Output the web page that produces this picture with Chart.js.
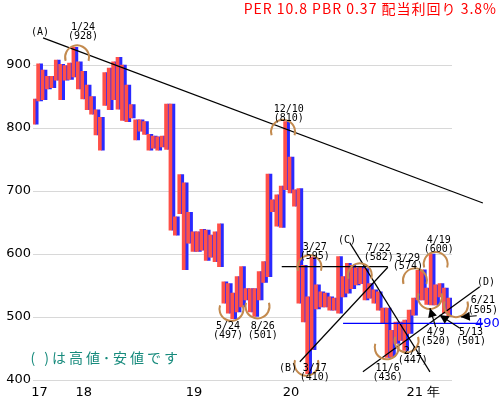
<!DOCTYPE html>
<html><head><meta charset="utf-8">
<script src="https://cdn.jsdelivr.net/npm/chart.js@4"></script>
<style>html,body{margin:0;padding:0;background:#fff}</style>
</head><body>
<canvas id="c" width="500" height="400"></canvas>
<script>
// ---- data ----
const lows  = [806,843,845,862,864,876,845,876,877,881,862,846,829,822,789,765,836,829,845,830,
               812,810,816,781,795,790,765,768,765,770,766,638,630,664,575,617,604,604,606,590,
               595,588,580,522,506,497,508,516,527,508,501,527,555,564,667,644,642,702,697,676,
               522,492,410,448,513,516,516,511,511,506,532,538,545,551,553,527,530,522,511,490,
               436,437,458,463,447,474,503,527,527,520,519,519,532,506,501];
const highs = [846,902,892,882,882,908,901,899,903,928,905,890,868,850,829,817,888,895,905,912,
               900,868,837,813,813,810,790,787,786,787,838,838,659,726,713,666,635,635,639,638,
               630,635,648,556,553,538,564,580,545,545,545,572,588,727,686,694,708,810,754,702,
               704,582,532,595,551,540,538,532,530,596,564,585,582,578,580,577,553,543,540,514,
               514,479,492,492,495,511,530,574,575,546,600,551,553,546,530];
const yearTickIndex = [1, 11, 36, 58, 88];
const yearTickText  = ['17', '18', '19', '20', '21 年'];
const categories = lows.map((_, i) => {
  const k = yearTickIndex.indexOf(i);
  return k >= 0 ? yearTickText[k] : '';
});
const yTickValues = [400, 500, 600, 700, 800, 900];

// annotations in data units: [bar index, price]
const trendLines = [
  {from: [1.77, 943], to: [101.5, 681], color: '#000'},   // (A)
  {from: [60.0, 429], to: [79.95, 579], color: '#000'},   // (B)
  {from: [71.3, 618], to: [89.5, 413], color: '#000'},    // (C)
  {from: [74.3, 413], to: [100.8, 548], color: '#000'},   // (D)
  {from: [55.9, 580], to: [79.95, 580], color: '#000'},   // 3/27-7/22 level
  {from: [69.8, 490], to: [101.5, 490], color: '#0000ff'} // 490 support
];
const arcsTop    = [[9.5, 928], [56.2, 810], [62.2, 595], [73.6, 582], [86.1, 574], [90.8, 600]];
const arcsBottom = [[44.5, 497], [50.4, 501], [61.5, 410], [79.7, 436], [84.2, 447], [89.5, 516], [95.4, 503]];
const arrows = [
  {from: [90.8, 484], to: [89.5, 514]},
  {from: [96.3, 482], to: [91.7, 503]},
  {from: [100.1, 502], to: [96.5, 500]}
];
const notes = [
  ['(A)', 1.09, 952.4], ['1/24', 10.83, 960.3], ['(928)', 10.83, 946],
  ['12/10', 57.5, 830.2], ['(810)', 57.5, 815.9],
  ['5/24', 43.7, 485.7], ['(497)', 43.7, 471.4],
  ['8/26', 51.6, 485.7], ['(501)', 51.6, 471.4],
  ['3/27', 63.4, 611.1], ['(595)', 63.4, 596.8],
  ['(C)', 70.7, 622.2],
  ['7/22', 77.9, 609.5], ['(582)', 77.9, 595.2],
  ['3/29', 84.5, 593.7], ['(574)', 84.5, 581],
  ['4/19', 91.5, 621.4], ['(600)', 91.5, 607.9],
  ['(B)', 57.3, 419], ['3/17', 63.4, 419], ['(410)', 63.4, 404.8],
  ['11/6', 79.9, 419], ['(436)', 79.9, 404.8],
  ['2/1', 85.6, 446], ['(447)', 85.6, 431.7],
  ['4/9', 90.8, 475.4], ['(520)', 90.8, 460.8],
  ['5/13', 98.8, 475.4], ['(501)', 98.8, 460.8],
  ['6/21', 101.5, 527], ['(505)', 101.5, 511.1],
  ['(D)', 102.2, 555.6]
];
const supportLabel = ['490', 99.7, 490];
const legendNote = ['( )は高値･安値です', 16, 434.9];
const headline = 'PER 10.8 PBR 0.37 配当利回り 3.8%';

// ---- drawing ----
const annot = {
  id: 'annot',
  afterDatasetsDraw(chart) {
    const {ctx, scales: {x, y}} = chart;
    const P = (p) => [x.getPixelForValue(p[0]), y.getPixelForValue(p[1])];
    ctx.save();
    trendLines.forEach(l => {
      const a = P(l.from), b = P(l.to);
      ctx.beginPath(); ctx.moveTo(a[0], a[1]); ctx.lineTo(b[0], b[1]);
      ctx.strokeStyle = l.color; ctx.lineWidth = 1.2; ctx.stroke();
    });
    ctx.strokeStyle = '#c38a4e'; ctx.lineWidth = 2;
    const r = 12, ext = 0.3;
    arcsTop.forEach(p => {
      const c = P(p);
      ctx.beginPath(); ctx.arc(c[0], c[1] - 2 + r, r, Math.PI - ext, 2 * Math.PI + ext); ctx.stroke();
    });
    arcsBottom.forEach(p => {
      const c = P(p);
      ctx.beginPath(); ctx.arc(c[0], c[1] + 2 - r, r, -ext, Math.PI + ext); ctx.stroke();
    });
    ctx.fillStyle = '#000'; ctx.strokeStyle = '#000'; ctx.lineWidth = 1.2;
    arrows.forEach(a => {
      const t = P(a.from), h = P(a.to);
      const ang = Math.atan2(h[1] - t[1], h[0] - t[0]);
      ctx.beginPath(); ctx.moveTo(t[0], t[1]); ctx.lineTo(h[0], h[1]); ctx.stroke();
      const L = 9, W = 4.5;
      ctx.beginPath();
      ctx.moveTo(h[0], h[1]);
      ctx.lineTo(h[0] - L * Math.cos(ang) + W * Math.sin(ang), h[1] - L * Math.sin(ang) - W * Math.cos(ang));
      ctx.lineTo(h[0] - L * Math.cos(ang) - W * Math.sin(ang), h[1] - L * Math.sin(ang) + W * Math.cos(ang));
      ctx.closePath(); ctx.fill();
    });
    ctx.font = "10px 'DejaVu Sans Mono'";
    ctx.textAlign = 'center'; ctx.textBaseline = 'middle'; ctx.fillStyle = '#000';
    notes.forEach(n => { const p = P([n[1], n[2]]); ctx.fillText(n[0], p[0], p[1]); });
    ctx.font = "13px 'DejaVu Sans'"; ctx.fillStyle = '#0000ff'; ctx.textAlign = 'left';
    let p = P([supportLabel[1], supportLabel[2]]);
    ctx.fillText(supportLabel[0], p[0], p[1]);
    ctx.font = "14px 'Noto Sans CJK JP'"; ctx.fillStyle = '#168a7c'; ctx.textAlign = 'center';
    try { ctx.letterSpacing = '3px'; } catch (e) {}
    p = P([legendNote[1], legendNote[2]]);
    ctx.fillText(legendNote[0], p[0], p[1]);
    ctx.font = "14px 'Noto Sans CJK JP'"; ctx.fillStyle = '#ff0000'; ctx.textAlign = 'right';
    try { ctx.letterSpacing = '1px'; } catch (e) {}
    ctx.fillText(headline, chart.width - 3, 9);
    try { ctx.letterSpacing = '0px'; } catch (e) {}
    ctx.restore();
  }
};

const ranges = lows.map((l, i) => [l, highs[i]]);
new Chart(document.getElementById('c'), {
  type: 'bar',
  data: {
    labels: categories,
    datasets: [
      {data: ranges, backgroundColor: '#ff5048', barThickness: 3},
      {data: ranges, backgroundColor: '#2a2aff', barThickness: 3}
    ]
  },
  options: {
    responsive: false,
    animation: false,
    layout: {padding: {top: 33.5, right: 48, left: 0, bottom: 0}},
    plugins: {legend: {display: false}, tooltip: {enabled: false}},
    scales: {
      x: {
        grid: {display: false, drawTicks: false},
        border: {display: false},
        ticks: {autoSkip: false, maxRotation: 0, minRotation: 0, padding: 5, color: '#000',
                font: {family: 'DejaVu Sans', size: 13}},
        afterFit(s) { s.height = 20; }
      },
      y: {
        min: 400, max: 950,
        grid: {color: '#d8d8d8', drawTicks: false},
        border: {display: false},
        ticks: {padding: 2, color: '#000', font: {family: 'DejaVu Sans', size: 13}},
        afterBuildTicks(s) { s.ticks = yTickValues.map(v => ({value: v})); },
        afterFit(s) { s.width = 33; }
      }
    }
  },
  plugins: [annot]
});
</script>
</body></html>
